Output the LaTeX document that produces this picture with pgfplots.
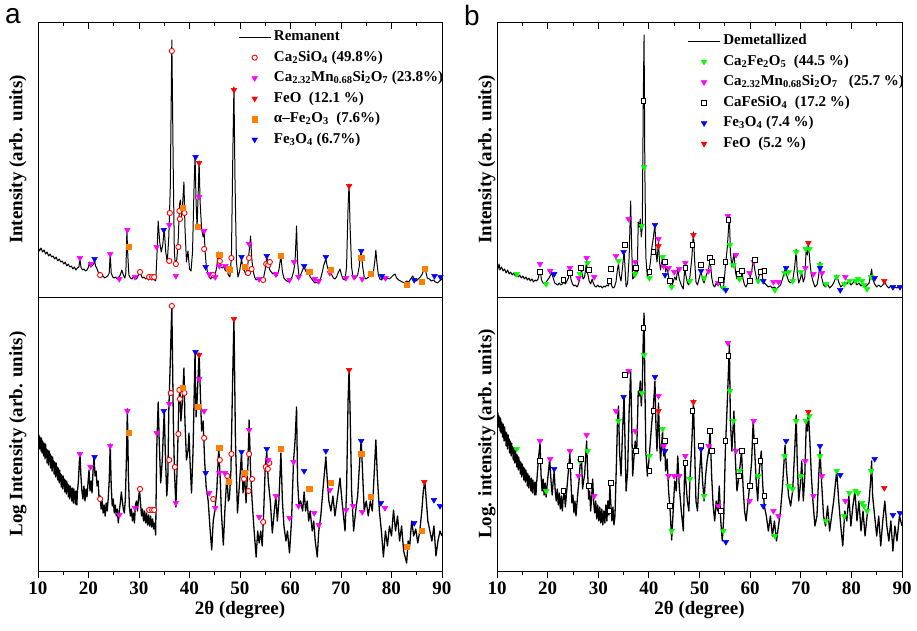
\documentclass[border=0pt]{standalone}
\usepackage{fontspec}
\setmainfont{Liberation Serif}
\newfontfamily\panelfont{Liberation Sans}
\usepackage{pgfplots}
\usepackage{pgfplotstable}
\pgfplotsset{compat=1.18}
\definecolor{mag}{RGB}{255,0,255}
\definecolor{orng}{RGB}{255,128,0}
\definecolor{grn}{RGB}{0,255,0}
\definecolor{blu}{RGB}{0,0,255}
\definecolor{rd}{RGB}{255,0,0}

\pgfplotstableread{
x y
10.0 50
10.3 46
10.6 49
10.9 45
11.2 47
11.5 43
11.8 45
12.1 41
12.4 43
12.7 40
13.0 41
13.3 38
13.6 40
13.9 36
14.2 38
14.5 35
14.8 36
15.1 33
15.4 35
15.7 31
16.0 33
16.3 30
16.6 31
16.9 28
17.2 30
17.5 27
17.8 29
18.1 30
18.3 38
18.5 30
18.8 27
19.1 28
19.4 26
19.7 27
20.0 30
20.2 35
20.4 30
20.7 31
21.0 33
21.2 37
21.4 31
21.7 28
22.0 24
22.3 22
22.6 20
22.9 21
23.2 19
23.5 20
23.8 21
24.1 24
24.3 43
24.5 24
24.8 20
25.1 19
25.4 20
25.7 18
26.0 20
26.3 22
26.6 27
26.9 22
27.2 19
27.4 24
27.6 66
27.8 40
28.0 22
28.3 19
28.6 18
28.9 20
29.2 19
29.5 18
29.8 21
30.1 24
30.4 22
30.7 19
31.0 20
31.3 18
31.6 19
31.9 17
32.2 19
32.5 17
32.8 18
33.1 17
33.3 16
33.5 35
33.8 76
34.1 55
34.4 45
34.7 52
35.0 68
35.3 45
35.6 35
35.9 60
36.2 110
36.5 257
36.8 120
37.0 45
37.2 32
37.5 38
37.8 60
38.0 92
38.2 97
38.4 80
38.6 90
38.9 115
39.1 70
39.4 35
39.7 46
40.0 28
40.3 26
40.6 45
40.9 110
41.1 141
41.3 95
41.5 70
41.7 100
41.9 136
42.1 95
42.4 68
42.7 60
42.9 66
43.1 45
43.3 32
43.6 24
43.9 20
44.2 18
44.5 21
44.8 19
45.1 23
45.4 30
45.7 45
45.9 38
46.2 30
46.5 29
46.8 31
47.1 26
47.4 28
47.7 22
48.0 20
48.3 40
48.6 150
48.8 210
49.0 120
49.3 35
49.6 20
49.9 25
50.3 38
50.6 28
50.9 26
51.2 22
51.5 30
51.8 45
52.1 61
52.3 40
52.6 26
52.9 20
53.2 17
53.5 18
53.8 16
54.1 18
54.4 17
54.7 20
55.0 28
55.3 40
55.6 33
55.9 27
56.2 25
56.5 23
56.8 24
57.1 20
57.4 22
57.7 27
58.1 41
58.4 25
58.7 19
59.0 17
59.3 16
59.6 15
59.9 17
60.3 20
60.6 25
60.9 35
61.2 71
61.4 35
61.7 20
62.0 22
62.4 27
62.7 31
63.0 26
63.3 24
63.6 25
63.9 20
64.2 18
64.5 16
64.8 14
65.1 15
65.4 14
65.7 16
66.0 19
66.3 25
66.6 32
67.0 38
67.3 30
67.6 26
67.9 24
68.2 22
68.5 19
68.8 18
69.1 20
69.5 25
69.8 28
70.1 22
70.4 18
70.8 17
71.1 30
71.4 90
71.6 113
71.8 70
72.1 30
72.4 19
72.7 18
73.0 20
73.3 22
73.6 30
73.8 40
74.0 46
74.3 30
74.6 20
74.9 18
75.2 19
75.5 20
75.8 22
76.1 21
76.4 24
76.7 36
76.9 47
77.1 35
77.4 22
77.7 18
78.0 17
78.3 19
78.6 18
78.9 17
79.2 19
79.6 18
80.0 20
80.4 22
80.7 23
81.0 19
81.4 17
81.8 16
82.2 15
82.6 14
83.0 16
83.4 15
83.8 18
84.2 21
84.5 18
84.9 16
85.3 18
85.7 20
86.1 23
86.4 28
86.6 30
86.8 25
87.1 19
87.5 18
87.9 16
88.3 17
88.7 15
89.1 14
89.5 16
90.0 18
}\TL

\pgfplotstableread{
x y
10.0 140
10.1 126
10.2 136
10.3 122
10.4 134
10.5 128
10.6 120
10.7 133
10.8 118
10.9 130
11.0 124
11.1 115
11.2 128
11.3 119
11.4 112
11.5 127
11.6 114
11.7 122
11.8 108
11.9 121
12.0 116
12.1 106
12.2 120
12.3 110
12.4 117
12.5 103
12.6 115
12.7 108
12.8 100
12.9 114
13.0 104
13.1 110
13.2 97
13.3 109
13.4 101
13.5 94
13.6 108
13.7 96
13.8 104
13.9 91
14.0 103
14.1 95
14.2 88
14.3 101
14.4 90
14.5 97
14.6 84
14.7 96
14.8 89
14.9 82
15.0 95
15.1 85
15.2 92
15.3 79
15.4 91
15.5 84
15.6 77
15.7 90
15.8 80
15.9 87
16.0 74
16.1 86
16.2 78
16.3 72
16.4 85
16.5 75
16.6 82
16.7 70
16.8 83
16.9 76
17.0 68
17.1 82
17.2 72
17.3 79
17.4 67
17.5 80
17.6 73
17.7 66
17.8 79
17.9 84
18.0 90
18.2 110
18.3 118
18.5 95
18.7 80
18.9 72
19.1 85
19.3 70
19.5 82
19.7 74
19.9 88
20.1 101
20.3 80
20.5 90
20.7 78
20.9 100
21.1 114
21.3 95
21.5 100
21.7 85
21.9 90
22.1 72
22.3 75
22.5 62
22.7 70
22.9 58
23.1 66
23.3 55
23.5 68
23.7 60
23.9 72
24.1 90
24.3 127
24.5 85
24.7 65
24.9 72
25.1 58
25.3 66
25.5 55
25.7 62
25.9 48
26.1 60
26.3 68
26.5 79
26.7 70
26.9 62
27.1 58
27.3 72
27.5 110
27.7 162
27.9 95
28.1 64
28.3 55
28.5 62
28.7 50
28.9 58
29.1 48
29.3 66
29.5 70
29.7 60
29.9 72
30.1 81
30.3 68
30.5 55
30.7 62
30.9 50
31.1 60
31.3 48
31.5 58
31.7 46
31.9 56
32.1 45
32.3 55
32.5 44
32.7 52
32.9 42
33.1 48
33.3 36
33.5 120
33.8 169
34.0 130
34.3 88
34.6 110
35.0 161
35.2 120
35.5 75
35.7 90
35.9 160
36.2 210
36.5 266
36.8 150
37.0 104
37.3 64
37.6 110
37.9 170
38.1 183
38.3 150
38.6 170
38.9 203
39.1 150
39.4 111
39.7 120
39.9 138
40.1 110
40.4 78
40.7 120
41.1 220
41.3 154
41.5 170
41.9 218
42.2 170
42.4 140
42.7 150
43.0 110
43.3 84
43.7 70
44.1 40
44.4 21
44.7 50
45.0 60
45.4 80
45.8 124
46.1 90
46.3 60
46.7 26
47.0 60
47.4 95
47.7 70
47.9 72
48.2 100
48.5 180
48.8 253
49.1 130
49.5 58
49.8 80
50.3 118
50.6 78
50.9 95
51.2 68
51.6 110
51.8 151
52.1 100
52.4 70
52.8 40
53.2 14
53.5 40
53.8 28
54.1 40
54.4 25
54.7 60
55.0 104
55.3 119
55.6 90
56.0 70
56.4 38
56.8 60
57.1 75
57.4 50
57.7 70
58.1 118
58.4 70
58.7 45
59.1 30
59.4 40
59.8 18
60.2 50
60.6 110
60.9 130
61.2 164
61.4 90
61.7 64
62.0 70
62.4 60
62.7 79
63.0 60
63.3 70
63.6 50
63.9 60
64.3 40
64.6 50
64.9 30
65.3 14
65.6 40
66.0 55
66.4 80
67.0 114
67.3 90
67.6 70
68.0 60
68.4 75
68.8 55
69.2 70
69.8 93
70.2 70
70.5 55
70.8 40
71.1 80
71.4 170
71.6 202
71.8 160
72.1 80
72.5 40
72.9 60
73.3 75
73.7 110
74.0 131
74.3 95
74.6 60
75.0 70
75.4 55
75.8 70
76.2 60
76.6 100
76.9 131
77.2 95
77.6 60
78.0 40
78.4 14
78.8 40
79.2 25
79.6 45
80.0 35
80.4 61
80.8 40
81.2 55
81.6 30
82.0 45
82.4 20
83.0 8
83.3 30
83.6 25
84.0 50
84.4 35
84.8 42
85.2 28
85.6 40
86.0 60
86.3 80
86.6 90
86.9 70
87.2 50
87.6 40
88.0 30
88.4 45
88.8 15
89.2 30
89.6 40
90.0 35
}\BL

\pgfplotstableread{
x y
10.0 32
10.2 28
10.4 33
10.6 27
10.9 30
11.2 26
11.5 28
11.8 24
12.1 27
12.4 23
12.7 25
13.0 22
13.3 24
13.6 21
13.9 23
14.2 20
14.5 22
14.8 19
15.1 21
15.4 18
15.7 20
16.0 17
16.3 19
16.6 16
16.9 18
17.2 15
17.5 17
17.8 16
18.1 18
18.5 27
18.8 17
19.1 14
19.4 13
19.7 15
20.0 17
20.4 20
20.8 24
21.1 19
21.4 14
21.7 13
22.0 12
22.3 14
22.6 12
22.9 13
23.2 15
23.5 13
23.8 16
24.1 19
24.4 28
24.6 18
24.9 13
25.2 11
25.5 12
25.8 10
26.1 13
26.4 20
26.7 28
27.0 18
27.3 20
27.7 36
27.9 24
28.2 16
28.5 13
28.8 18
29.0 14
29.3 11
29.6 10
29.9 12
30.2 10
30.5 11
30.8 9
31.1 11
31.4 10
31.7 12
32.0 11
32.3 17
32.6 12
32.9 9
33.2 10
33.5 15
33.8 28
34.0 33
34.2 22
34.5 16
34.8 30
35.1 46
35.3 28
35.5 10
35.8 14
36.1 40
36.4 96
36.6 50
36.8 18
37.1 20
37.4 30
37.7 24
37.9 75
38.1 70
38.3 78
38.5 60
38.7 70
38.9 200
39.05 262
39.2 130
39.4 40
39.7 20
40.0 24
40.3 35
40.6 50
40.9 60
41.2 73
41.4 45
41.6 35
41.9 55
42.1 35
42.3 27
42.5 33
42.7 41
42.9 30
43.1 38
43.3 25
43.6 30
43.9 20
44.2 14
44.5 10
44.8 15
45.1 20
45.4 17
45.7 28
46.0 18
46.4 12
46.8 8
47.1 30
47.3 22
47.6 14
47.9 12
48.1 20
48.5 40
48.8 65
49.0 40
49.3 15
49.6 12
49.9 18
50.3 26
50.6 18
50.9 14
51.2 20
51.5 24
51.8 28
52.1 38
52.4 20
52.7 12
53.0 10
53.3 14
53.6 12
53.9 18
54.2 10
54.5 8
54.8 12
55.1 30
55.5 50
55.9 82
56.1 45
56.4 30
56.8 44
57.1 25
57.4 18
57.8 22
58.3 28
58.6 18
58.9 12
59.2 10
59.5 14
59.9 18
60.3 25
60.6 38
60.9 28
61.2 20
61.5 15
61.8 22
62.2 28
62.5 18
62.8 14
63.2 12
63.6 10
64.0 11
64.4 9
64.8 10
65.2 8
65.6 10
66.0 12
66.4 18
66.9 28
67.2 22
67.6 16
68.0 14
68.4 16
68.8 30
69.1 48
69.3 25
69.6 14
69.9 18
70.2 24
70.5 15
70.8 20
71.1 50
71.3 42
71.5 55
71.8 35
72.1 22
72.4 16
72.8 10
73.2 12
73.5 20
73.8 35
74.1 20
74.5 12
74.9 10
75.3 13
75.7 9
76.1 11
76.5 14
77.1 22
77.5 15
77.9 10
78.3 12
78.7 15
79.1 13
79.5 16
79.9 12
80.3 14
80.7 17
81.1 12
81.5 14
81.9 11
82.3 13
82.7 10
83.1 12
83.5 14
83.8 22
84.0 28
84.2 18
84.6 13
85.0 10
85.4 12
85.8 10
86.2 12
86.6 15
87.0 11
87.4 9
87.8 11
88.2 8
88.6 10
89.0 9
89.5 11
90.0 10
}\TR

\pgfplotstableread{
x y
10.0 162
10.1 148
10.2 158
10.3 144
10.4 155
10.5 149
10.6 140
10.7 153
10.8 138
10.9 149
11.0 143
11.1 134
11.2 147
11.3 137
11.4 130
11.5 144
11.6 131
11.7 139
11.8 125
11.9 138
12.0 132
12.1 122
12.2 136
12.3 126
12.4 132
12.5 118
12.6 130
12.7 123
12.8 115
12.9 128
13.0 118
13.1 124
13.2 111
13.3 123
13.4 115
13.5 108
13.6 121
13.7 109
13.8 117
13.9 104
14.0 116
14.1 108
14.2 101
14.3 114
14.4 103
14.5 110
14.6 97
14.7 109
14.8 101
14.9 94
15.0 107
15.1 97
15.2 104
15.3 91
15.4 103
15.5 96
15.6 89
15.7 101
15.8 91
15.9 98
16.0 85
16.1 97
16.2 89
16.3 83
16.4 95
16.5 86
16.6 92
16.7 80
16.8 93
16.9 86
17.0 78
17.1 91
17.2 82
17.3 88
17.4 76
17.5 89
17.6 83
17.7 76
17.8 88
17.9 92
18.0 100
18.3 118
18.5 128
18.7 96
18.9 80
19.1 92
19.3 76
19.5 88
19.7 74
19.9 86
20.1 96
20.4 112
20.7 88
20.9 76
21.1 90
21.3 100
21.5 80
21.7 70
21.9 82
22.1 66
22.3 78
22.5 62
22.7 75
22.9 60
23.1 74
23.3 80
23.5 64
23.7 76
23.9 88
24.1 100
24.4 118
24.6 90
24.8 68
25.0 76
25.2 58
25.4 70
25.6 55
25.8 68
26.0 80
26.2 90
26.4 105
26.7 112
26.9 82
27.1 90
27.3 96
27.7 130
27.9 100
28.1 72
28.3 80
28.5 60
28.7 75
28.9 92
29.1 68
29.3 58
29.5 70
29.7 52
29.9 66
30.1 50
30.3 64
30.5 48
30.7 62
30.9 46
31.1 60
31.3 48
31.5 66
31.7 50
31.9 70
32.1 56
32.3 85
32.5 66
32.7 50
32.9 64
33.1 46
33.3 55
33.6 110
33.8 150
34.0 165
34.2 120
34.5 95
34.8 140
35.1 175
35.3 125
35.5 80
35.8 100
36.1 160
36.4 200
36.6 150
36.8 95
37.0 110
37.3 130
37.6 120
37.9 180
38.1 175
38.3 190
38.5 165
38.7 185
38.9 235
39.05 258
39.2 190
39.4 120
39.7 95
40.0 110
40.3 130
40.6 150
40.9 165
41.2 190
41.4 145
41.6 120
41.9 168
42.1 130
42.3 110
42.5 125
42.7 140
42.9 115
43.1 130
43.3 100
43.6 112
43.9 80
44.2 60
44.5 31
44.8 60
45.1 90
45.4 80
45.7 115
46.0 85
46.4 60
46.8 40
47.1 110
47.3 90
47.6 70
47.9 60
48.1 90
48.5 130
48.8 171
49.0 130
49.3 70
49.6 60
49.9 90
50.3 120
50.6 90
50.9 70
51.2 95
51.5 110
51.8 120
52.1 140
52.4 95
52.7 65
53.0 50
53.3 70
53.6 60
53.9 85
54.2 50
54.5 30
54.8 55
55.1 120
55.5 170
55.9 226
56.1 150
56.4 120
56.8 160
57.1 110
57.4 80
57.8 95
58.3 120
58.6 85
58.9 60
59.2 50
59.5 65
59.9 85
60.3 110
60.6 150
60.9 120
61.2 90
61.5 70
61.8 100
62.2 120
62.5 85
62.8 65
63.2 55
63.6 40
64.0 55
64.4 35
64.8 50
65.2 30
65.6 45
66.0 60
66.4 85
66.9 126
67.2 100
67.6 75
68.0 65
68.4 80
68.8 120
69.1 156
69.3 110
69.6 70
69.9 85
70.2 110
70.5 70
70.8 95
71.1 150
71.3 140
71.5 160
71.8 130
72.1 95
72.4 70
72.8 45
73.2 55
73.5 90
73.8 121
74.1 90
74.5 55
74.9 45
75.3 65
75.7 40
76.1 55
76.5 70
77.1 100
77.5 70
77.9 45
78.3 25
78.7 60
79.1 50
79.5 75
79.9 45
80.3 65
80.7 80
81.1 50
81.5 70
81.9 40
82.3 60
82.7 35
83.1 55
83.5 70
83.8 90
84.0 110
84.2 75
84.6 55
85.0 35
85.4 55
85.8 25
86.2 50
86.6 70
87.0 45
87.4 30
87.8 50
88.2 20
88.6 45
89.0 30
89.5 55
90.0 45
}\BR

\pgfplotsset{
  panel/.style={scale only axis, xmin=10, xmax=90, ymin=0, ytick=\empty,
    xtick={10,20,...,90}, minor x tick num=1,
    major tick length=7pt, minor tick length=4pt,
    every tick/.style={black, line width=0.8pt},
    axis line style={line width=0.9pt},
    /pgf/number format/assume math mode=true,
    ticklabel style={font=\fontsize{19}{19}\selectfont\bfseries},
    label style={font=\fontsize{19}{19}\selectfont\bfseries}},
  toppanel/.style={panel, height=275pt, ymax=275, xtick pos=right, tick align=inside, xticklabels={}},
  botpanel/.style={panel, height=274pt, ymax=274, xtick pos=left, tick align=outside, xlabel={2θ (degree)}},
  ylab/.style={every axis y label/.style={at={(axis description cs:#1,0.5)}, rotate=90, anchor=center,
      font=\fontsize{19}{19}\selectfont\bfseries}},
  spec/.style={black, line width=1.0pt, line join=round, no marks},
  specb/.style={black, line width=1.3pt, line join=round, no marks},
  circ/.style={only marks, mark=*, mark size=2.6pt, mark options={draw=rd, fill=white, line width=0.9pt}},
  dtri/.style={only marks, mark=triangle*, mark size=3.3pt, mark options={rotate=180, draw=#1, fill=#1}},
  osq/.style={only marks, mark=square*, mark size=2.4pt, mark options={draw=black, fill=white, line width=0.7pt}},
  fsq/.style={only marks, mark=square*, mark size=2.6pt, mark options={draw=orng, fill=orng}},
  leg/.style={legend style={draw=none, fill=none, inner sep=0pt, at={#1}, anchor=north west,
      font=\fontsize{15}{15}\selectfont\bfseries,
      nodes={inner sep=2.75pt, text height=11pt, text depth=4pt}},
    legend cell align=left,
    legend image code/.code={\draw[mark repeat=2,mark phase=2,##1] plot coordinates {(0pt,0pt) (16pt,0pt) (32pt,0pt)};}},
}

\begin{document}
\begin{tikzpicture}
\useasboundingbox (0,0) rectangle (917pt,630pt);
\node[font=\panelfont\fontsize{28}{28}\selectfont] at (13pt,614pt) {a};
\node[font=\panelfont\fontsize{28}{28}\selectfont] at (472pt,615pt) {b};

% ---------- top left ----------
\begin{axis}[toppanel, width=404pt, at={(38pt,333pt)}, anchor=south west,
  ylabel={Intensity (arb. units)}, ylab=-0.05,
  leg={(axis description cs:0.495,0.983)}]
\addplot[spec] table {\TL};
\addlegendentry{Remanent}
\addplot[circ] coordinates {(36.5,246) (22.3,22) (30.2,25) (32.0,20) (32.6,20) (33.0,20) (36.0,36) (37.3,33) (37.8,50) (36.1,84) (38.0,86) (38.1,78) (39.0,84) (42.9,48) (44.7,22) (46.0,36) (48.3,39) (51.0,30) (51.6,24) (51.8,39) (52.3,28) (54.6,17) (55.2,33) (55.6,32) (55.9,35)};
\addlegendentry{Ca\textsubscript{2}SiO\textsubscript{4} (49.8\%)}
\addplot[dtri=mag] coordinates {(18.3,39) (20.5,33) (24.3,43) (26.1,18) (27.7,67) (29.2,20) (33.5,50) (36.0,72) (37.3,21) (41.9,100) (42.9,66) (43.9,23) (45.1,20) (45.9,31) (47.1,31) (51.8,53) (53.8,18) (57.1,23) (59.8,17) (60.7,35) (61.6,20) (64.8,18) (65.6,16) (67.8,24) (71.0,19) (72.6,20) (74.2,18) (78.8,19)};
\addlegendentry{Ca\textsubscript{2.32}Mn\textsubscript{0.68}Si\textsubscript{2}O\textsubscript{7} (23.8\%)}
\addplot[dtri=rd] coordinates {(41.9,134) (48.8,207) (71.6,111)};
\addlegendentry{FeO~ (12.1 \%)}
\addplot[fsq] coordinates {(28.0,50) (38.7,89) (41.6,70) (45.9,42) (47.7,28) (47.9,27) (50.9,30) (58.1,41) (63.7,25) (68.0,27) (74.0,39) (75.9,23) (83.0,12) (86.0,15) (86.5,28)};
\addlegendentry{α–Fe\textsubscript{2}O\textsubscript{3}~ (7.6\%)}
\addplot[dtri=blu] coordinates {(21.2,38) (34.9,67) (41.2,140) (43.2,30) (50.3,40) (55.3,41) (62.7,31) (67.0,40) (74.0,46) (78.1,21) (84.5,17) (88.5,21) (89.7,20)};
\addlegendentry{Fe\textsubscript{3}O\textsubscript{4} (6.7\%)}
\end{axis}

% ---------- bottom left ----------
\begin{axis}[botpanel, width=404pt, at={(38pt,59pt)}, anchor=south west,
  ylabel={Log Intensity (arb. units)}, ylab=-0.05]
\addplot[specb] table {\BL};
\addplot[circ] coordinates {(36.5,265) (22.3,72) (30.2,82) (32.0,61) (32.6,61) (33.0,61) (36.0,111) (37.1,104) (37.8,137) (36.3,178) (38.0,181) (38.1,172) (39.0,178) (42.9,133) (44.7,72) (46.0,111) (47.5,95) (48.3,117) (51.8,117) (50.8,92) (51.7,80) (52.4,92) (54.6,49) (55.1,104) (55.5,102) (55.8,108)};
\addplot[dtri=mag] coordinates {(18.3,117) (20.4,104) (24.3,125) (26.1,56) (27.7,160) (29.2,63) (33.5,138) (36.0,167) (37.3,68) (41.9,192) (42.9,160) (43.9,78) (45.1,63) (45.9,98) (47.0,98) (51.8,141) (53.8,54) (55.6,111) (57.1,75) (59.8,53) (60.6,109) (61.6,65) (64.7,58) (65.6,46) (67.8,81) (71.0,61) (72.4,65) (74.2,59) (78.7,63)};
\addplot[dtri=rd] coordinates {(41.9,216) (48.8,252) (71.6,201) (86.5,89)};
\addplot[fsq] coordinates {(28.0,138) (38.7,183) (41.6,164) (45.9,123) (47.8,89) (50.9,98) (58.1,122) (63.7,82) (68.0,88) (74.0,117) (75.9,74) (83.0,24) (86.0,40)};
\addplot[dtri=blu] coordinates {(21.2,114) (34.9,160) (41.2,219) (43.2,98) (50.3,119) (55.3,122) (62.7,100) (67.0,120) (74.0,130) (77.9,68) (84.5,48) (88.4,71) (89.6,65)};
\end{axis}

% ---------- top right ----------
\begin{axis}[toppanel, width=405pt, at={(497pt,333pt)}, anchor=south west,
  ylabel={Intensity (arb. units)}, ylab=-0.025,
  leg={(axis description cs:0.47,0.968)}]
\addplot[spec] table {\TR};
\addlegendentry{Demetallized}
\addplot[dtri=grn] coordinates {(13.9,23) (19.7,13) (26.4,23) (27.9,34) (34.0,36) (37.3,23) (38.6,71) (39.05,130) (40.1,19) (42.7,40) (44.5,10) (48.1,16) (50.9,19) (54.7,9) (56.0,52) (56.7,32) (57.9,18) (61.6,16) (64.9,7) (66.8,24) (67.6,25) (68.4,16) (69.1,45) (70.0,25) (71.0,48) (71.7,48) (73.8,32) (75.0,13) (77.1,20) (78.6,13) (79.6,16) (80.8,16) (81.3,18) (82.1,16) (82.5,12) (83.1,8) (83.9,20)};
\addlegendentry{Ca\textsubscript{2}Fe\textsubscript{2}O\textsubscript{5}~ (44.5 \%)}
\addplot[dtri=mag] coordinates {(18.5,33) (20.5,26) (24.4,29) (26.1,19) (27.7,39) (29.2,20) (33.5,41) (36.0,78) (37.3,35) (41.9,58) (42.9,31) (43.9,29) (45.0,25) (46.0,28) (47.2,34) (51.8,26) (53.7,14) (55.6,81) (57.2,42) (59.9,24) (60.7,35) (64.6,15) (65.6,15) (70.9,29) (72.5,23) (74.2,24) (78.8,20)};
\addlegendentry{Ca\textsubscript{2.32}Mn\textsubscript{0.68}Si\textsubscript{2}O\textsubscript{7}~~ (25.7 \%)}
\addplot[osq] coordinates {(18.5,25) (23.1,17) (24.4,24) (26.6,29) (28.2,27) (32.5,28) (32.2,16) (35.2,52) (37.4,29) (38.9,196) (40.1,25) (40.9,45) (43.1,35) (44.2,16) (47.2,29) (48.6,52) (50.3,32) (52.1,39) (52.4,35) (54.2,17) (55.1,35) (55.7,77) (57.7,23) (58.4,26) (60.0,16) (60.9,37) (62.0,25) (62.8,26)};
\addlegendentry{CaFeSiO\textsubscript{4}~ (17.2 \%)}
\addplot[dtri=blu] coordinates {(21.3,23) (35.0,45) (41.2,72) (43.2,22) (50.3,26) (55.2,7) (62.6,16) (67.1,29) (73.8,29) (77.8,7) (84.6,19) (88.2,10) (89.6,10)};
\addlegendentry{Fe\textsubscript{3}O\textsubscript{4} (7.4 \%)}
\addplot[dtri=rd] coordinates {(48.8,62) (41.9,51) (71.5,54) (86.5,16)};
\addlegendentry{FeO~ (5.2 \%)}
\end{axis}

% ---------- bottom right ----------
\begin{axis}[botpanel, width=405pt, at={(497pt,59pt)}, anchor=south west,
  ylabel={Log. intensity (arb. units)}, ylab=-0.025]
\addplot[specb] table {\BR};
\addplot[dtri=grn] coordinates {(13.9,122) (19.7,80) (26.4,110) (27.9,120) (34.0,150) (37.3,120) (38.6,178) (39.05,216) (40.1,115) (42.7,142) (44.5,40) (48.1,92) (50.9,75) (54.7,40) (56.0,180) (56.7,150) (57.9,100) (61.6,95) (64.9,35) (66.8,115) (67.6,85) (68.4,82) (69.1,150) (70.0,95) (71.0,150) (71.7,155) (73.8,115) (75.0,50) (77.1,100) (78.6,55) (79.6,78) (80.8,80) (81.3,78) (82.1,68) (82.5,65) (83.1,60) (83.9,100)};
\addplot[dtri=mag] coordinates {(18.5,130) (20.5,112) (24.4,120) (26.1,95) (27.7,136) (29.2,75) (33.5,160) (36.0,200) (37.3,140) (41.9,175) (42.9,125) (43.9,95) (45.0,95) (46.0,95) (47.2,115) (51.8,125) (53.7,65) (55.6,228) (57.2,120) (59.9,70) (60.7,150) (64.6,60) (65.6,55) (70.9,110) (72.5,75) (74.2,95) (78.8,70)};
\addplot[osq] coordinates {(18.5,110) (23.1,80) (24.4,105) (26.6,112) (28.2,85) (32.2,60) (32.5,88) (35.2,196) (37.4,120) (38.9,243) (40.1,100) (40.9,160) (43.1,130) (44.2,65) (47.2,108) (48.6,160) (50.3,125) (52.1,140) (52.4,120) (54.2,60) (55.1,130) (55.7,215) (57.7,95) (58.4,120) (60.0,85) (60.9,130) (62.0,110) (62.8,75)};
\addplot[dtri=blu] coordinates {(21.3,102) (35.0,174) (41.2,194) (43.2,120) (50.3,122) (55.2,29) (62.6,65) (67.1,130) (73.8,125) (77.8,96) (84.6,112) (88.2,56) (89.6,58)};
\addplot[dtri=rd] coordinates {(41.9,160) (48.8,169) (71.5,159) (86.5,83)};
\end{axis}
\end{tikzpicture}
\end{document}
